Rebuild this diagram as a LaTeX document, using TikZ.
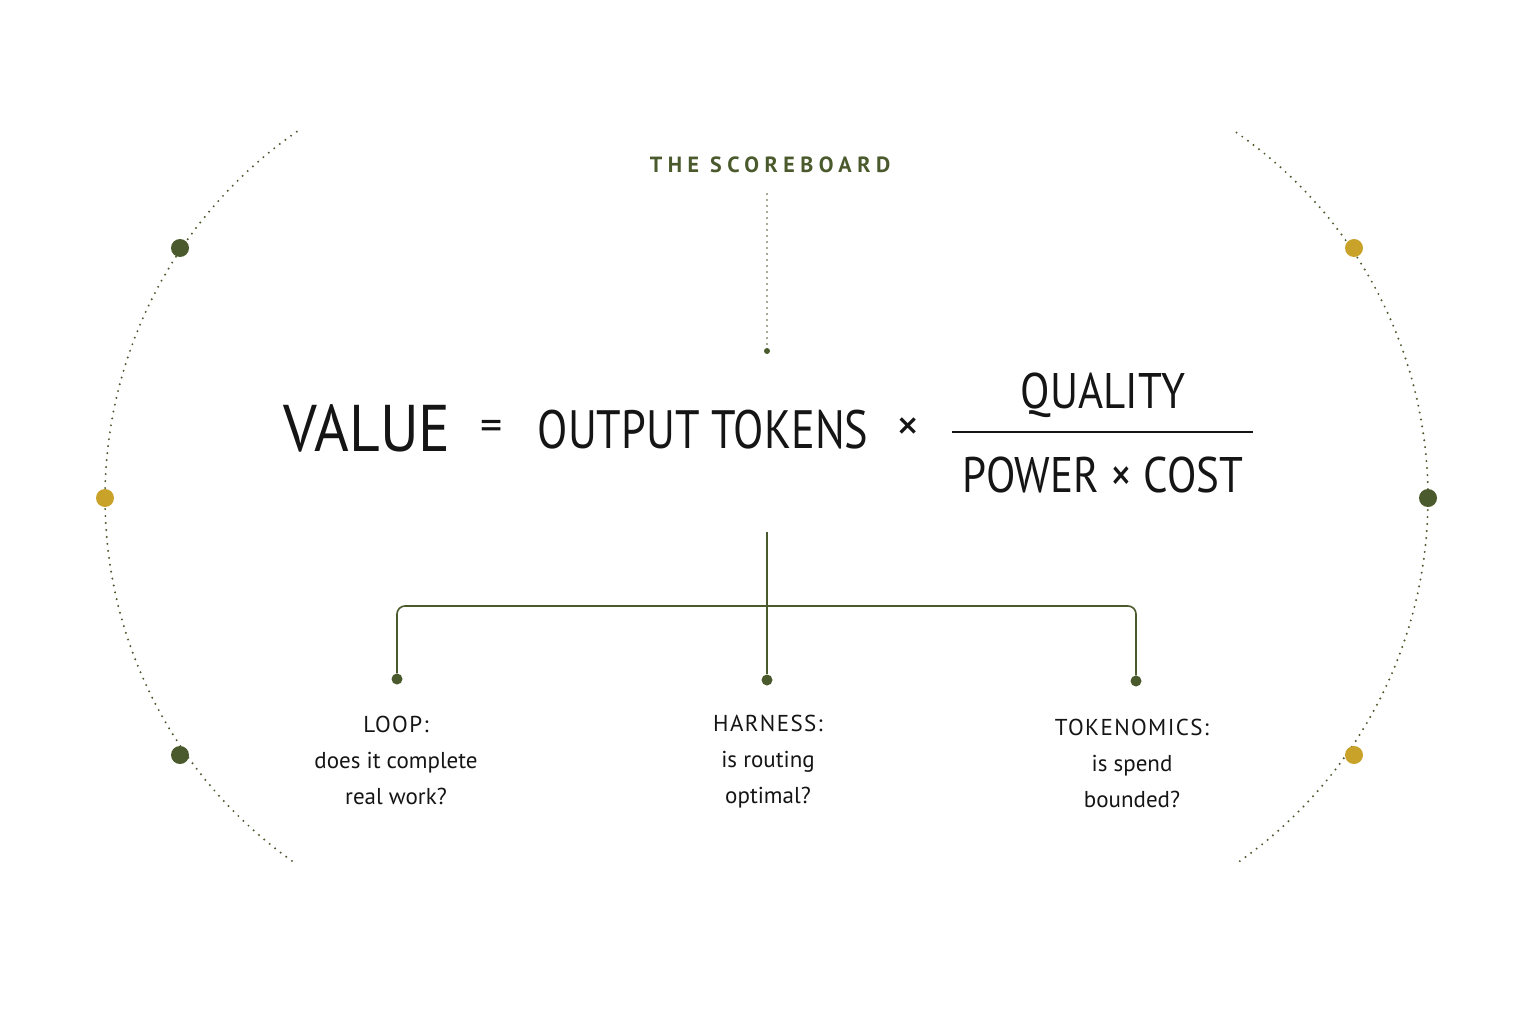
\documentclass[tikz,border=0pt]{standalone}
\usepackage{fontspec}
\setmainfont{PT Sans}
\newfontfamily\spaced[LetterSpace=25]{PT Sans}
\newfontfamily\headf[LetterSpace=6]{PT Sans}
\definecolor{olive}{HTML}{4A5A2C}
\definecolor{gold}{HTML}{C9A22A}
\definecolor{ink}{HTML}{151515}
\begin{document}
\begin{tikzpicture}[x=1pt,y=-1pt,
  dotline/.style={olive, line width=2.2pt, dash pattern=on 0pt off 7pt, line cap=round},
  bigdot/.style={circle, inner sep=0pt, minimum size=18pt},
  smalldot/.style={circle, fill=olive, inner sep=0pt, minimum size=11pt},
  tree/.style={olive, line width=1.6pt, rounded corners=8pt},
  lab/.style={font=\fontsize{23}{36}\selectfont, text=ink, align=center}]
\useasboundingbox (0,0) rectangle (1536,1024);
% arcs
\draw[dotline] (550.8,498) ++(125.5:445.8) arc[start angle=125.5, end angle=236, radius=445.8];
\draw[dotline] (983.6,498) ++(54.8:444.4) arc[start angle=54.8, end angle=-56, radius=444.4];
\node[bigdot, fill=olive] (l1) at (180,248) {};
\node[bigdot, fill=gold] (l2) at (105,498) {};
\node[bigdot, fill=olive] (l3) at (180,755) {};
\node[bigdot, fill=gold] (r1) at (1354,248) {};
\node[bigdot, fill=olive] (r2) at (1428,498) {};
\node[bigdot, fill=gold] (r3) at (1354,755) {};
% title
\node[text=olive, font=\spaced\bfseries\fontsize{22}{26}\selectfont] (title) at (770,165) {THE SCOREBOARD};
\node[circle, fill=olive, inner sep=0pt, minimum size=6pt] (tdot) at (767,351) {};
\draw[dotline, dash pattern=on 0pt off 6pt, line width=1.8pt] (767,194) -- (tdot);
% formula
\node[text=ink, font=\fontsize{66}{70}\selectfont, xscale=0.9] (value) at (367,428) {VALUE};
\node[text=ink, font=\fontsize{44}{44}\selectfont] (eq) at (492,430) {=};
\node[text=ink, font=\fontsize{54}{60}\selectfont, xscale=0.82] (out) at (703,430) {OUTPUT TOKENS};
\node[text=ink, font=\fontsize{46}{44}\selectfont] (times) at (908,430) {×};
\node[text=ink, font=\fontsize{50}{56}\selectfont, xscale=0.86] (qual) at (1103,395) {QUALITY};
\node[text=ink, font=\fontsize{50}{56}\selectfont, xscale=0.86] (pc) at (1103,475) {POWER × COST};
\coordinate (fl) at (952,432); \coordinate (fr) at (1253,432);
\draw[ink, line width=1.8pt] (fl) -- (fr);
% tree
\coordinate (top) at (767,532);
\node[smalldot] (d1) at (397,679) {};
\node[smalldot] (d2) at (767,680) {};
\node[smalldot] (d3) at (1136,681) {};
\draw[tree] (top) -- (d2);
\draw[tree] (d1) -- (397,606) -- (1136,606) -- (d3);
% labels
\node[lab] (t1) at (396,760) {{\headf LOOP:}\\does it complete\\real work?};
\node[lab] (t2) at (768,762) {{\headf HARNESS:}\\is routing\\optimal?};
\node[lab] (t3) at (1132,763) {{\headf TOKENOMICS:}\\is spend\\bounded?};
\end{tikzpicture}
\end{document}
